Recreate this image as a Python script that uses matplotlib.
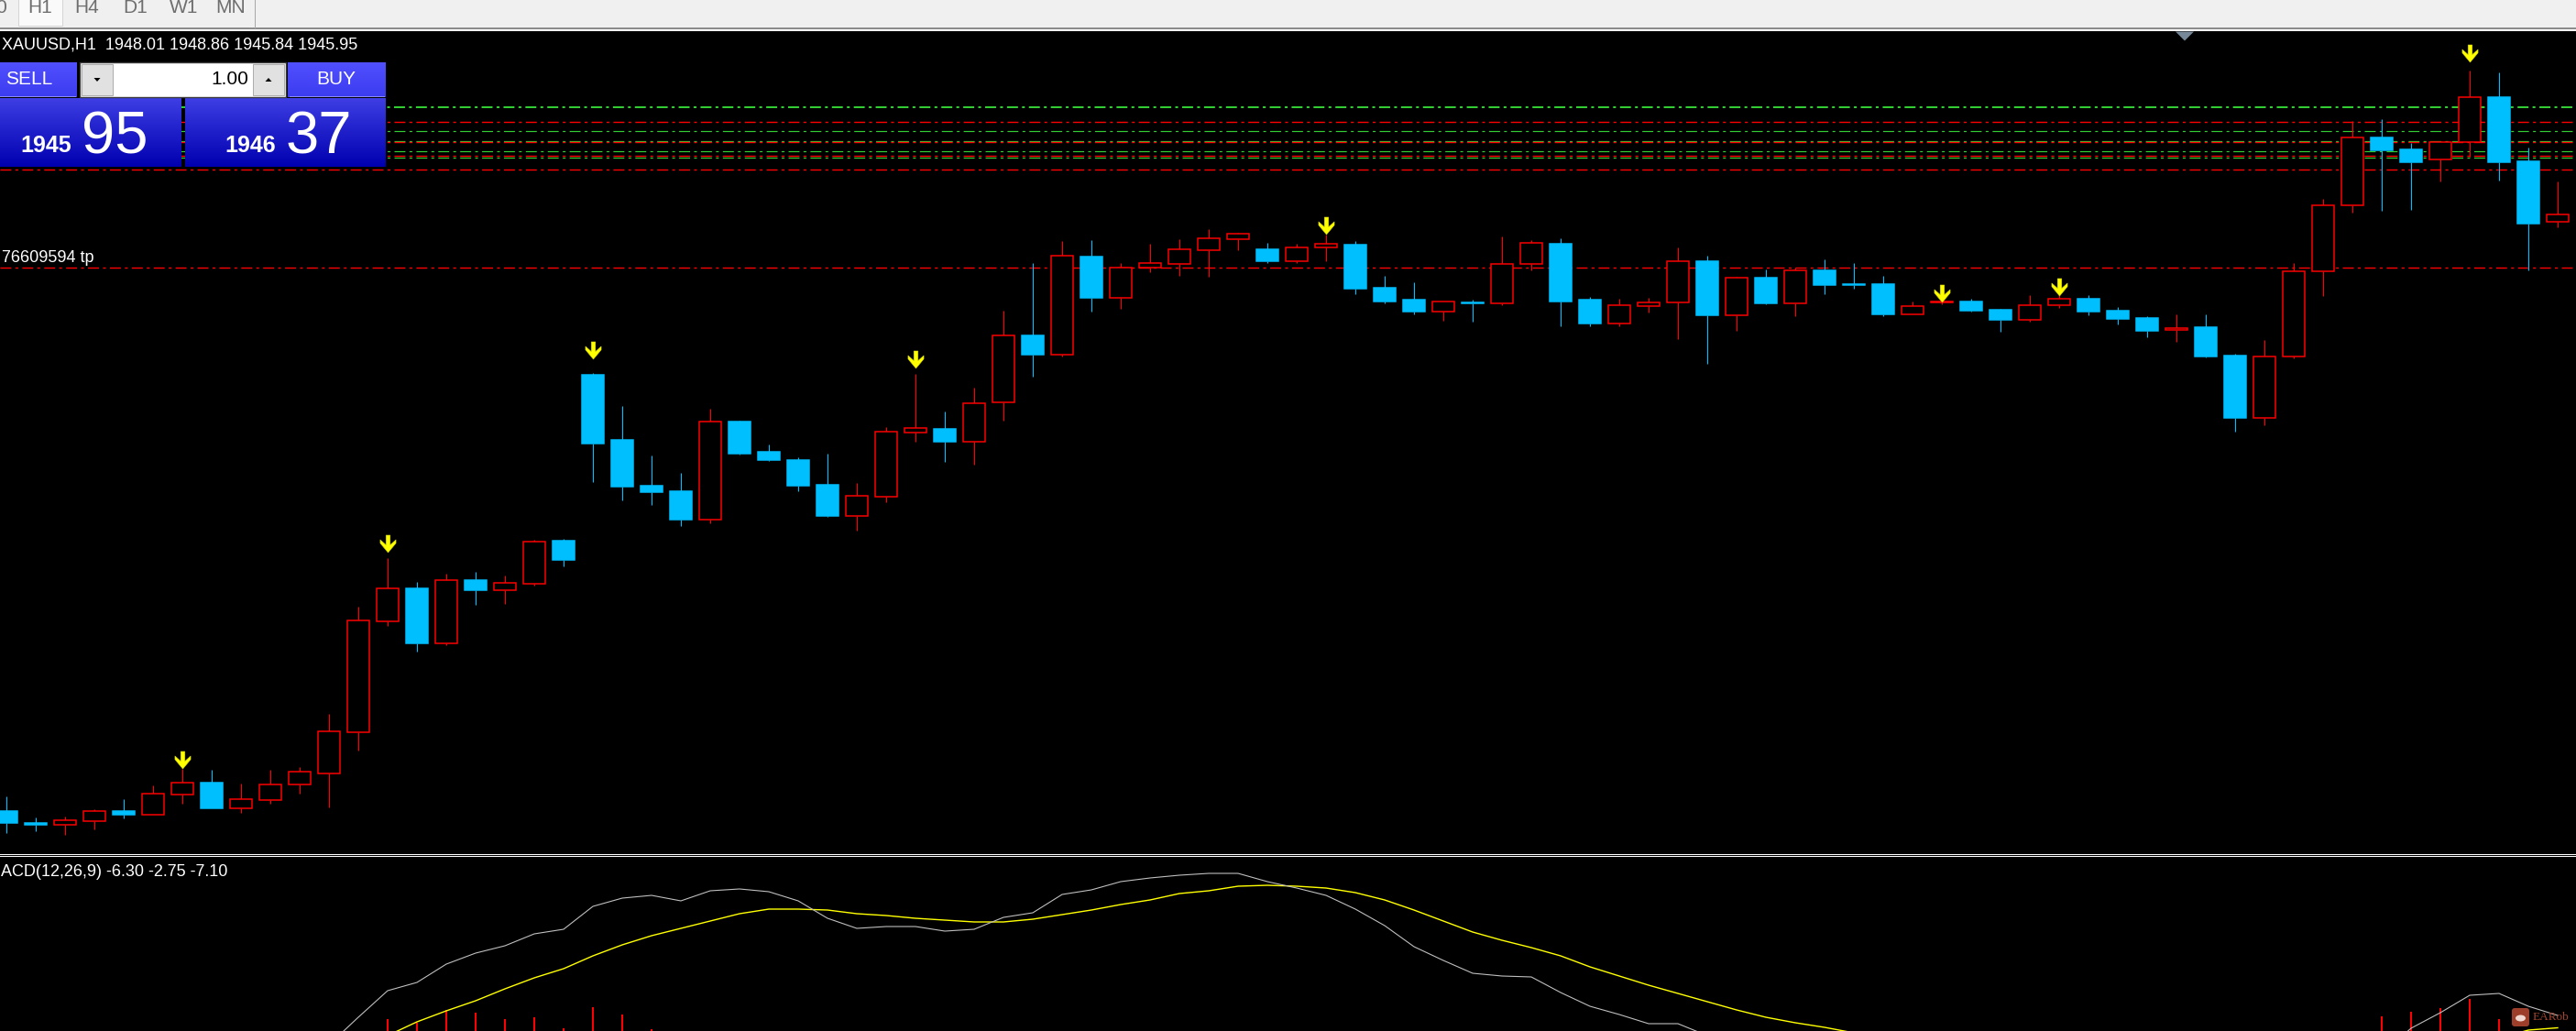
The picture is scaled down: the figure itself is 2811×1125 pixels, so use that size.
import numpy as np
import matplotlib
matplotlib.use("Agg")
import matplotlib.pyplot as plt
from matplotlib.patches import Rectangle, Polygon, FancyBboxPatch, Ellipse
from matplotlib.path import Path

plt.rcParams["font.family"] = ["Liberation Sans", "DejaVu Sans"]
plt.rcParams["lines.scale_dashes"] = False

W, H = 2811, 1125
PX = 0.72                      # one pixel in points (dpi 100)
RED, CYAN = "#FF0000", "#00BFFF"
GREEN = "#32CD32"

# ── XAUUSD H1 candles ───────────────────────────────────────────────────────
opens = [
    1881.50, 1880.20, 1880.03, 1880.43, 1881.50, 1881.13, 1883.33, 1884.60, 1881.83, 1882.73,
    1884.43, 1885.63, 1890.07, 1902.23, 1905.80, 1899.83, 1906.70, 1905.63, 1906.33, 1911.00,
    1929.10, 1922.00, 1917.00, 1916.40, 1913.33, 1924.00, 1920.70, 1919.80, 1917.10, 1913.73,
    1915.83, 1922.83, 1923.20, 1921.83, 1926.07, 1933.37, 1931.27, 1942.00, 1937.47, 1940.77,
    1941.23, 1942.67, 1943.93, 1942.80, 1941.53, 1943.03, 1943.30, 1938.60, 1937.30, 1936.03,
    1937.00, 1936.93, 1941.23, 1943.40, 1937.30, 1934.73, 1936.63, 1937.03, 1941.50, 1935.63,
    1939.70, 1936.93, 1940.50, 1939.03, 1939.00, 1935.73, 1937.03, 1937.10, 1936.20, 1935.13,
    1936.67, 1937.40, 1936.10, 1935.30, 1933.97, 1934.30, 1931.20, 1924.37, 1931.07, 1940.40,
    1947.57, 1955.00, 1953.70, 1952.57, 1954.47, 1959.40, 1952.40, 1945.77,
]
highs = [
    1883.10, 1880.80, 1880.90, 1881.70, 1882.80, 1884.30, 1886.13, 1886.00, 1884.50, 1886.00,
    1886.30, 1892.10, 1903.80, 1909.10, 1906.50, 1907.40, 1907.60, 1907.20, 1911.10, 1911.20,
    1929.30, 1925.70, 1920.30, 1918.40, 1925.40, 1924.10, 1921.50, 1920.10, 1920.50, 1917.30,
    1923.40, 1929.20, 1925.10, 1927.70, 1936.10, 1941.30, 1943.70, 1943.80, 1941.30, 1943.40,
    1943.90, 1945.00, 1944.60, 1943.50, 1943.40, 1944.43, 1943.70, 1939.90, 1939.20, 1937.07,
    1937.30, 1944.20, 1943.80, 1944.00, 1937.60, 1937.40, 1937.50, 1943.00, 1942.10, 1939.83,
    1940.63, 1940.83, 1941.70, 1941.30, 1939.90, 1937.10, 1937.13, 1937.40, 1936.30, 1937.80,
    1937.90, 1937.80, 1936.50, 1935.50, 1935.70, 1935.70, 1931.40, 1932.90, 1941.33, 1948.30,
    1956.77, 1957.00, 1954.43, 1954.47, 1962.27, 1962.10, 1953.87, 1950.17,
]
lows = [
    1879.10, 1879.30, 1878.93, 1879.53, 1880.73, 1881.13, 1882.33, 1881.80, 1881.33, 1882.33,
    1883.43, 1881.90, 1888.10, 1901.70, 1898.90, 1899.60, 1904.00, 1904.10, 1906.10, 1908.20,
    1917.43, 1915.40, 1914.90, 1912.60, 1912.90, 1920.40, 1919.70, 1916.40, 1913.60, 1912.10,
    1915.20, 1921.80, 1919.60, 1919.33, 1924.10, 1928.93, 1931.07, 1936.03, 1936.33, 1940.30,
    1939.93, 1939.83, 1942.73, 1941.30, 1941.33, 1941.53, 1937.93, 1936.90, 1935.73, 1935.03,
    1934.90, 1936.70, 1940.53, 1934.40, 1934.40, 1934.40, 1935.90, 1933.00, 1930.30, 1933.90,
    1936.83, 1935.50, 1937.90, 1938.50, 1935.50, 1935.73, 1936.83, 1936.00, 1933.80, 1934.90,
    1936.43, 1935.60, 1934.60, 1933.23, 1932.73, 1931.03, 1922.93, 1923.63, 1930.93, 1937.73,
    1946.77, 1947.03, 1947.13, 1950.23, 1952.90, 1950.33, 1940.53, 1945.17,
]
closes = [
    1880.20, 1880.00, 1880.47, 1881.47, 1881.10, 1883.40, 1884.57, 1881.80, 1882.77, 1884.37,
    1885.77, 1890.17, 1902.27, 1905.77, 1899.80, 1906.67, 1905.60, 1906.37, 1910.87, 1908.90,
    1921.63, 1916.90, 1916.30, 1913.30, 1924.00, 1920.50, 1919.80, 1917.00, 1913.70, 1915.87,
    1922.87, 1923.27, 1921.80, 1925.97, 1933.37, 1931.33, 1942.07, 1937.53, 1940.77, 1941.27,
    1942.77, 1943.97, 1944.47, 1941.50, 1942.97, 1943.37, 1938.53, 1937.13, 1936.03, 1937.07,
    1936.90, 1941.17, 1943.47, 1937.13, 1934.70, 1936.67, 1936.97, 1941.47, 1935.60, 1939.67,
    1936.90, 1940.47, 1938.93, 1938.93, 1935.70, 1936.57, 1937.13, 1936.13, 1935.10, 1936.67,
    1937.37, 1936.00, 1935.20, 1933.93, 1934.17, 1931.13, 1924.43, 1931.10, 1940.40, 1947.57,
    1954.97, 1953.63, 1952.33, 1954.47, 1959.37, 1952.33, 1945.63, 1946.57,
]

# signal arrows (bar index, price of arrow centre)
arrow_idx = [6, 13, 20, 31, 45, 66, 70, 84]
arrow_price = [1887.15, 1910.75, 1931.85, 1930.85, 1945.40, 1938.00, 1938.70, 1964.25]

# order levels
green_levels = [1958.30, 1955.70, 1954.65, 1953.50, 1952.85]
red_levels = [1956.75, 1954.50, 1953.00, 1951.50]
tp_level = 1940.80

# ── MACD sub-window (only the part that is inside the cropped window) ────────
macd_main = [None] * 11 + [
    -1.5, 1.5, 4.4, 5.3, 7.3, 8.5, 9.3, 10.6, 11.1, 13.6,
    14.5, 14.8, 14.2, 15.3, 15.5, 15.2, 14.2, 12.3, 11.2, 11.4,
    11.4, 10.9, 11.1, 12.4, 12.9, 14.9, 15.4, 16.3, 16.7, 17.0,
    17.2, 17.2, 16.3, 15.6, 14.8, 13.3, 11.5, 9.2, 7.7, 6.3,
    6.0, 5.9, 4.2, 2.7, 1.8, 0.8, 0.8, -0.5,
] + [None] * 22 + [-2.5, 0.3, 2.0, 3.9, 4.1, 2.7, 1.7]
macd_signal = [None] * 13 + [
    -0.5, 1.0, 2.2, 3.3, 4.6, 5.8, 6.8, 8.2, 9.4, 10.4,
    11.2, 12.0, 12.8, 13.3, 13.3, 13.2, 12.8, 12.6, 12.3, 12.1,
    11.9, 11.9, 12.2, 12.7, 13.2, 13.8, 14.3, 15.0, 15.3, 15.8,
    15.9, 15.8, 15.6, 15.1, 14.3, 13.2, 12.0, 10.8, 9.9, 9.1,
    8.2, 7.0, 6.0, 5.0, 4.1, 3.2, 2.3, 1.5, 0.9, 0.4, -0.2,
] + [None] * 21 + [-0.8, 0.1, 0.35]
macd_hist = [None] * 13 + [1.3, 0.9, 2.3, 2.0, 1.3, 1.5, 0.3, 2.6, 1.8, 0.2] \
    + [None] * 58 + [1.6, 2.1, 2.5, 3.5, 1.3] + [None] * 2

DASHDOT = (0, (8.6, 3.2, 2.2, 3.2))

fig = plt.figure(figsize=(W / 100, H / 100), dpi=100, facecolor="black")


def px_axes(y_top, y_bot):
    return fig.add_axes([0, (H - y_bot) / H, 1, (y_bot - y_top) / H])


XLIM = (-7 / 32, 2804 / 32)

# ── price window ───────────────────────────────────────────────────────────
ax = px_axes(34.5, 932)
ax.set_xlim(*XLIM)
ax.set_ylim(1876.8, 1966.55)
ax.axis("off")

ax.axhline(green_levels[0], color=GREEN, lw=2 * PX, ls=DASHDOT, zorder=1)
for lv in green_levels[1:]:
    ax.axhline(lv, color=GREEN, lw=1.2 * PX, ls=DASHDOT, zorder=1)
for lv in red_levels + [tp_level]:
    ax.axhline(lv, color=RED, lw=1.4 * PX, ls=DASHDOT, zorder=1)

for i, (o, h, l, c) in enumerate(zip(opens, highs, lows, closes)):
    up = c > o
    col = RED if up else CYAN
    top, bot = max(o, c), min(o, c)
    ax.vlines(i, top, h, color=col, lw=1.1 * PX, zorder=2)
    ax.vlines(i, l, bot, color=col, lw=1.1 * PX, zorder=2)
    ax.add_patch(Rectangle((i - 0.37, bot), 0.74, max(top - bot, 0.12),
                           facecolor="black" if up else CYAN, edgecolor=col,
                           lw=1.5 * PX, zorder=3))

arrow = Path([(-0.12, 0.5), (0.12, 0.5), (0.12, -0.06), (0.45, 0.24), (0.45, 0.04),
              (0, -0.5), (-0.45, 0.04), (-0.45, 0.24), (-0.12, -0.06), (-0.12, 0.5)],
             [Path.MOVETO] + [Path.LINETO] * 8 + [Path.CLOSEPOLY])
ax.plot(arrow_idx, arrow_price, ls="none", marker=arrow, ms=19 * PX,
        color="#FFFF00", mec="#D8D800", mew=0.4, zorder=4)

# ── MACD window ────────────────────────────────────────────────────────────
mx = px_axes(935.5, H)
mx.set_xlim(*XLIM)
mx.set_ylim(0, 18.95)
mx.axis("off")
idx = np.arange(len(opens))
hist = np.array(macd_hist, dtype=float)
ok = ~np.isnan(hist)
mx.vlines(idx[ok], -1, hist[ok], color=RED, lw=2 * PX)
mx.plot(idx, np.array(macd_signal, dtype=float), color="#FFFF00", lw=1.4 * PX)
mx.plot(idx, np.array(macd_main, dtype=float), color="#C0C0C0", lw=1.1 * PX)

# ── terminal decorations, in pixel coordinates ─────────────────────────────
ui = fig.add_axes([0, 0, 1, 1])
ui.set_zorder(5)
ui.axis("off")


def vgrad(x0, x1, y0, y1, c_top, c_bot, z=2):
    t = np.linspace(0, 1, 64)[:, None, None]
    img = np.array(c_top)[None, None, :] * (1 - t) + np.array(c_bot)[None, None, :] * t
    ui.imshow(img / 255, extent=(x0, x1, y1, y0), aspect="auto",
              interpolation="bilinear", zorder=z)


# toolbar strip
ui.add_patch(Rectangle((0, 0), W, 30, fc="#F0F0F0", ec="none", zorder=1))
ui.add_patch(Rectangle((0, 30), W, 2, fc="#8C8C8C", ec="none", zorder=1))
ui.add_patch(Rectangle((0, 32), W, 1.5, fc="white", ec="none", zorder=1))
ui.add_patch(Rectangle((20, -1), 48, 29, fc="#FAFAFA", ec="#D5D5D5", lw=PX, zorder=1))
ui.plot([278, 278], [0, 30], color="#A8A8A8", lw=PX, zorder=2)
ui.text(8, 13.5, "M30", ha="right", va="baseline", fontsize=15, color="#6E6E6E", zorder=3)
for lab, xc in zip(["H1", "H4", "D1", "W1", "MN"], [44, 95, 148, 201, 252]):
    ui.text(xc, 13.5, lab, ha="center", va="baseline", fontsize=15, color="#6E6E6E", zorder=3)

# separator between windows
ui.add_patch(Rectangle((0, 932), W, 1, fc="white", ec="none", zorder=1))
ui.add_patch(Rectangle((0, 934.2), W, 1, fc="white", ec="none", zorder=1))

# chart-shift marker
ui.add_patch(Polygon([(2374, 34.5), (2394, 34.5), (2384, 44.5)], closed=True,
                     fc="#778899", ec="none", zorder=2))

# texts on chart
ui.text(2, 49, "XAUUSD,H1  1948.01 1948.86 1945.84 1945.95", ha="left", va="center",
        fontsize=13, color="white", zorder=3)
ui.text(2, 282, "76609594 tp", ha="left", va="center", fontsize=13, color="white", zorder=3)
ui.text(-14, 952, "MACD(12,26,9) -6.30 -2.75 -7.10", ha="left", va="center",
        fontsize=13, color="white", zorder=3)

# one-click trading panel
vgrad(0, 84, 68, 106, (80, 80, 255), (60, 60, 240))
vgrad(314, 421, 68, 106, (80, 80, 255), (60, 60, 240))
ui.plot([0, 82], [105.3, 105.3], color="#8C8CFF", lw=PX, zorder=3)
ui.plot([316, 419], [105.3, 105.3], color="#8C8CFF", lw=PX, zorder=3)
vgrad(0, 198, 107, 182, (62, 62, 228), (0, 0, 176))
vgrad(202, 421, 107, 182, (62, 62, 228), (0, 0, 176))
ui.add_patch(Rectangle((87, 68), 225, 37.5, fc="white", ec="#3A3A3A", lw=1.4 * PX, zorder=3))
ui.add_patch(Rectangle((89, 70), 34, 34, fc="#E1E1E1", ec="#ADADAD", lw=PX, zorder=4))
ui.add_patch(Rectangle((276, 70), 34, 34, fc="#E1E1E1", ec="#ADADAD", lw=PX, zorder=4))
ui.add_patch(Polygon([(102.5, 85), (109.5, 85), (106, 89)], fc="black", ec="none", zorder=5))
ui.add_patch(Polygon([(289.5, 89), (296.5, 89), (293, 85)], fc="black", ec="none", zorder=5))
ui.text(271, 87, "1.00", ha="right", va="center", fontsize=15, color="black", zorder=5)
ui.text(32, 87, "SELL", ha="center", va="center", fontsize=15, color="white", zorder=5)
ui.text(367, 87, "BUY", ha="center", va="center", fontsize=15, color="white", zorder=5)
ui.text(22, 166, "1945", ha="left", va="baseline", fontsize=18, fontweight="bold",
        color="white", zorder=5)
ui.text(89, 167, "95", ha="left", va="baseline", fontsize=47, color="white", zorder=5)
ui.text(245, 166, "1946", ha="left", va="baseline", fontsize=18, fontweight="bold",
        color="white", zorder=5)
ui.text(312, 167, "37", ha="left", va="baseline", fontsize=47, color="white", zorder=5)

# watermark
ui.add_patch(FancyBboxPatch((2741, 1100), 19, 20, boxstyle="round,pad=0,rounding_size=3",
                            fc="#B84A32", ec="none", alpha=0.85, zorder=3))
ui.add_patch(Ellipse((2750.5, 1111), 11, 7, fc="#F0D8D0", ec="none", zorder=4))
ui.text(2764, 1110, "EARob", ha="left", va="center", fontsize=9.5, family="Liberation Serif",
        color="#A04530", zorder=3)

ui.set_xlim(0, W)
ui.set_ylim(H, 0)

fig.savefig("out.png", dpi=100, facecolor="black")
plt.close(fig)
